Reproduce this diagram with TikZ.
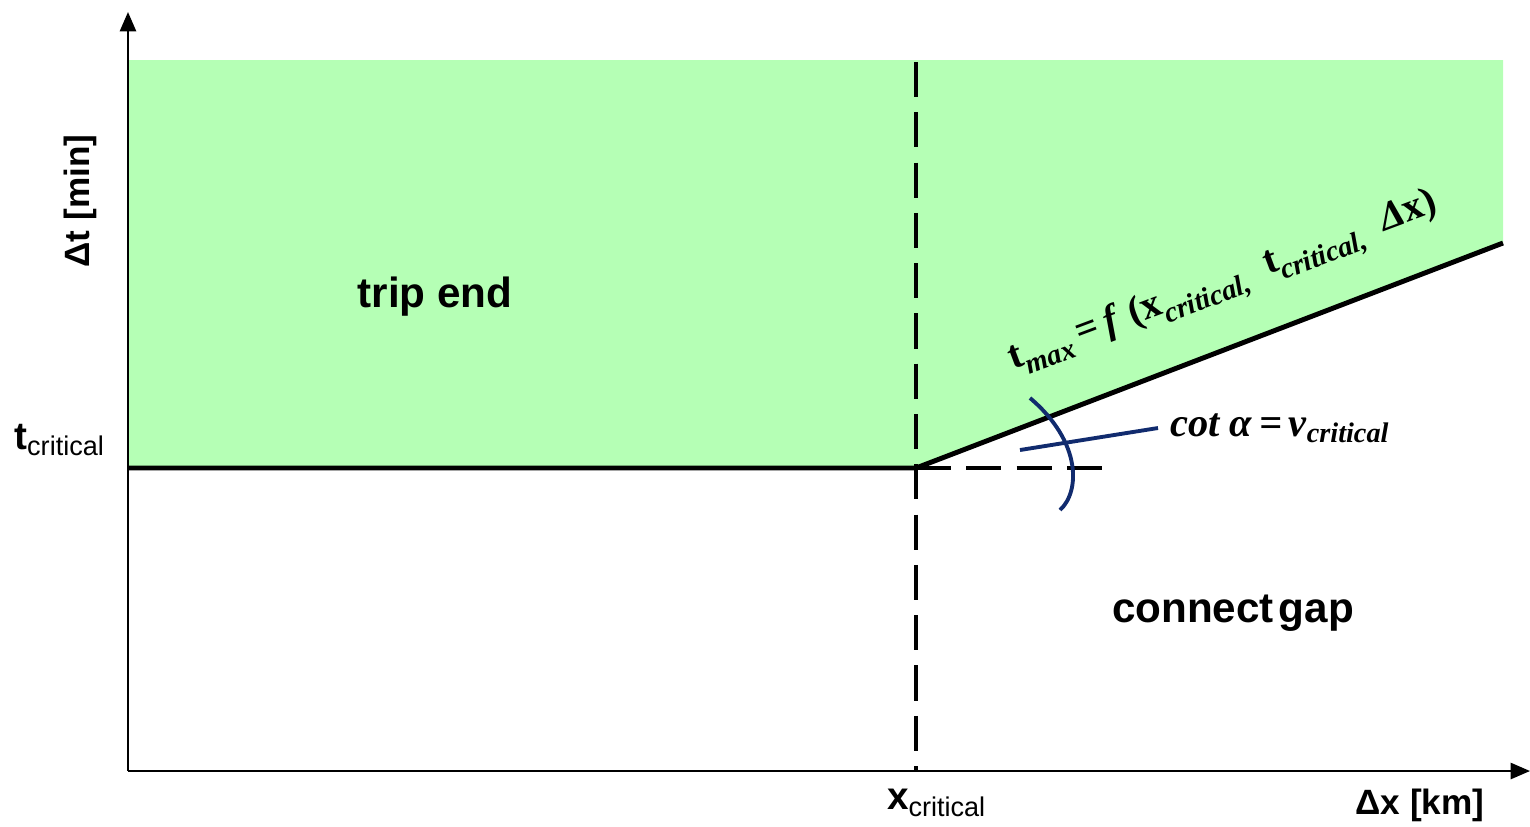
\documentclass[tikz,border=0pt]{standalone}
\usepackage{fontspec}
\setmainfont{Liberation Sans}
\newfontfamily\eqfont{Liberation Serif}
\usetikzlibrary{arrows.meta,calc}
\definecolor{regiongreen}{HTML}{B5FFB5}
\definecolor{arcblue}{HTML}{112B6E}
\newcommand{\lowsub}[1]{\raisebox{-0.55ex}{\fontsize{8.2}{9}\selectfont\itshape #1}}
\tikzset{
  axis/.style={line width=0.6pt,-{Triangle[length=5.5pt,width=4.6pt]}},
  bound/.style={line width=1.4pt},
  guide/.style={line width=0.9pt,dash pattern=on 10pt off 4.3pt},
  regionlbl/.style={font=\fontsize{12}{14}\selectfont\bfseries},
  axislbl/.style={font=\fontsize{10}{12}\selectfont\bfseries},
  ticklbl/.style={font=\fontsize{11}{13}\selectfont\bfseries,inner sep=1pt},
  eqlbl/.style={font=\eqfont\fontsize{11.4}{14}\selectfont\bfseries},
  anglbl/.style={font=\eqfont\fontsize{11.5}{14}\selectfont\bfseries\itshape,anchor=west},
  arcline/.style={draw=arcblue,line width=1.1pt}
}

\begin{document}
\begin{tikzpicture}[x=0.01cm,y=-0.01cm]
  \useasboundingbox (0,0) rectangle (1530,826);
  % Key points
  \coordinate (O) at (128,771);
  \coordinate (ytop) at (128,12);
  \coordinate (xend) at (1530,771);
  \coordinate (tc) at (128,468);
  \coordinate (knee) at (916,468);
  \coordinate (fend) at (1503,243);
  \coordinate (ftop) at (1503,60);
  \coordinate (gtop) at (128,60);
  \coordinate (vtop) at (916,62);
  \coordinate (vbot) at (916,771);
  \coordinate (hend) at (1110,468);

  % Green region
  \fill[regiongreen] (gtop) -- (ftop) -- (fend) -- (knee) -- (tc) -- cycle;

  % Axes
  \draw[axis] (O) -- (ytop);
  \draw[axis] (O) -- (xend);

  % Dashed guides
  \draw[guide] (vtop) -- (vbot);
  \draw[guide] (knee) -- (hend);

  % Boundary
  \draw[bound] (tc) -- (knee) -- (fend);

  % Angle mark
  \coordinate (arcA) at (1030,398);
  \coordinate (arcB) at (1060,510);
  \draw[arcline] (arcA) .. controls (1082,442) and (1080,492) .. (arcB);
  \node[anglbl] (cotlbl) at (1158,428) {cot α\,=\,v\textsubscript{critical}};
  \coordinate (ptr) at (1020,450);
  \draw[arcline] (ptr) -- (cotlbl.west);

  % Labels
  \node[eqlbl, rotate=20.5] (tmax) at (1224,284) {t\lowsub{max}\,=\,\textit{f} (x\lowsub{critical,}\ \ t\lowsub{critical,}\ \ \textit{Δ}x)};
  \node[regionlbl] (tripend) at (435,297) {trip end};
  \node[regionlbl] (gap) at (1233,613) {connect\hspace{0.12em}gap};
  \node[axislbl, rotate=90] (ylbl) at (80,201) {Δt [min]};
  \node[axislbl] (xlbl) at (1420,805) {Δx [km]};
  \node[ticklbl] (xcrit) at (937,803) {x\textsubscript{\mdseries critical}};
  \node[ticklbl] (tcrit) at (60,440) {t\textsubscript{\mdseries critical}};
\end{tikzpicture}
\end{document}
